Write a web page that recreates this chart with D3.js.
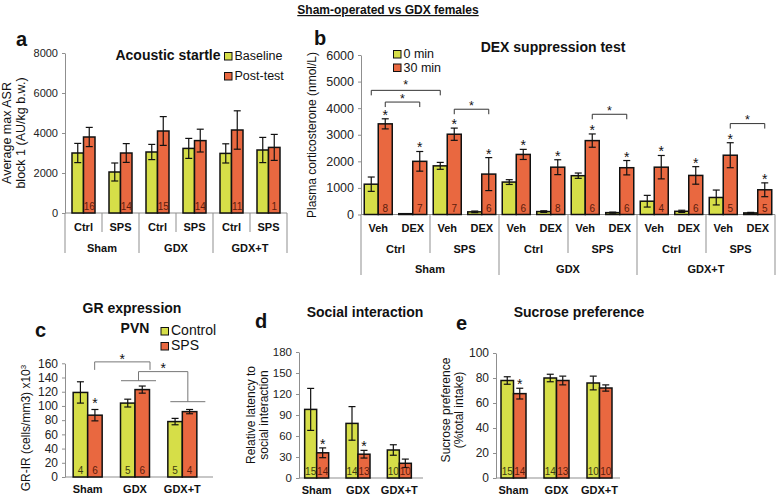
<!DOCTYPE html>
<html><head><meta charset="utf-8">
<script src="https://cdn.jsdelivr.net/npm/d3@7"></script>
<style>body{margin:0;background:#fff;}</style>
</head><body>
<svg id="chart" width="776" height="495"></svg>
<script>
// ---------- Panel a : Acoustic startle ----------
const aGroups = ["Sham", "GDX", "GDX+T"];
const aSubs = ["Ctrl", "SPS"];
const aSeries = ["Baseline", "Post-test"];
const aBaseline = [3000, 2050, 3050, 3230, 2980, 3150];
const aBaselineErr = [480, 450, 380, 500, 480, 630];
const aPost = [3800, 3000, 4100, 3620, 4150, 3280];
const aPostErr = [480, 470, 720, 570, 960, 650];
const aN = ["16", "14", "15", "14", "11", "1"];
const aTicks = [0, 2000, 4000, 6000, 8000];

// ---------- Panel b : DEX suppression test ----------
const bGroups = ["Sham", "GDX", "GDX+T"];
const bSubs = ["Ctrl", "SPS"];
const bTreats = ["Veh", "DEX"];
const bSeries = ["0 min", "30 min"];
const b0 = [1140, 30, 1830, 100, 1220, 110, 1460, 70, 500, 120, 640, 60];
const b0Err = [270, 0, 130, 30, 90, 30, 100, 20, 220, 40, 280, 20];
const b30 = [3410, 2000, 3020, 1520, 2260, 1780, 2780, 1760, 1780, 1470, 2230, 930];
const b30Err = [190, 370, 230, 620, 190, 280, 250, 270, 440, 330, 470, 260];
const bN = ["8", "7", "7", "6", "6", "8", "6", "6", "4", "6", "5", "5"];
const bTicks = [0, 1000, 2000, 3000, 4000, 5000, 6000];
// [from bar, from series, to bar, to series, level]
const bBrackets = [[0, 0, 2, 0, 4670], [0, 1, 1, 1, 4230], [2, 1, 3, 1, 3960], [6, 1, 7, 1, 3770], [10, 1, 11, 1, 3420]];

// ---------- Panel c : GR expression PVN ----------
const cGroups = ["Sham", "GDX", "GDX+T"];
const cSeries = ["Control", "SPS"];
const cControl = [119, 104, 78];
const cControlErr = [15, 5.5, 4.5];
const cSPS = [87, 123, 92];
const cSPSErr = [8, 5, 3];
const cNControl = ["4", "5", "5"];
const cNSPS = ["6", "6", "4"];
const cSPSStar = [true, false, false];
const cTicks = [0, 20, 40, 60, 80, 100, 120, 140, 160];

// ---------- Panel d : Social interaction ----------
const dGroups = ["Sham", "GDX", "GDX+T"];
const dControl = [98, 78, 40];
const dControlErr = [30, 24, 7.5];
const dSPS = [36, 34, 21];
const dSPSErr = [7, 5.5, 6];
const dNControl = ["15", "14", "10"];
const dNSPS = ["14", "13", "10"];
const dSPSStar = [true, true, false];
const dTicks = [0, 30, 60, 90, 120, 150, 180];

// ---------- Panel e : Sucrose preference ----------
const eGroups = ["Sham", "GDX", "GDX+T"];
const eControl = [78, 80, 76];
const eControlErr = [3, 3, 5.5];
const eSPS = [67.5, 78, 72];
const eSPSErr = [4.3, 3.5, 2.5];
const eNControl = ["15", "14", "10"];
const eNSPS = ["14", "13", "10"];
const eSPSStar = [true, false, false];
const eTicks = [0, 20, 40, 60, 80, 100];

// ================= drawing =================
const FONT = "'Liberation Sans', Arial, Helvetica, sans-serif";
const YEL = "#d6de48", ORG = "#e96840", AXC = "#8f8f8f";
const NYEL = "#3c3c10", NORG = "#5c1c0c";
const svg = d3.select("#chart");

function T(x, y, s, o = {}) {
  const t = svg.append("text").attr("x", x).attr("y", y).text(s)
    .attr("font-family", FONT).attr("font-size", o.size || 12)
    .attr("font-weight", o.weight || "normal")
    .attr("text-anchor", o.anchor || "middle")
    .attr("fill", o.fill || "#111");
  if (o.rotate != null) t.attr("transform", `rotate(${o.rotate},${x},${y})`);
  if (o.underline) t.attr("text-decoration", "underline");
  return t;
}
function L(x1, y1, x2, y2, col = AXC, w = 1) {
  svg.append("line").attr("x1", x1).attr("y1", y1).attr("x2", x2).attr("y2", y2)
    .attr("stroke", col).attr("stroke-width", w);
}
function yAxis(scale, ticks, x, fs) {
  const g = svg.append("g").attr("transform", `translate(${x},0)`)
    .call(d3.axisLeft(scale).tickValues(ticks).tickSize(3).tickSizeOuter(0).tickPadding(4).tickFormat(d3.format("d")));
  g.attr("font-family", FONT).attr("font-size", fs);
  g.select(".domain").attr("stroke", AXC);
  g.selectAll(".tick line").attr("stroke", AXC);
  g.selectAll(".tick text").attr("fill", "#222");
}
function star(x, cy, size = 14) { T(x, cy + size * 0.57, "*", { size }); }
function legendItem(x, y, color, label, fs) {
  svg.append("rect").attr("x", x).attr("y", y - 7.5).attr("width", 7.5).attr("height", 7.5)
    .attr("fill", color).attr("stroke", "#111").attr("stroke-width", 1);
  T(x + 10, y, label, { size: fs, anchor: "start" });
}
// bars: array of {x, w, v, e, color, n, ncol, star}
function drawBars(bars, y, nSize = 10, starGap = 7) {
  const base = y(0);
  const g = svg.append("g");
  g.selectAll("rect").data(bars).join("rect")
    .attr("x", d => d.x).attr("width", d => d.w)
    .attr("y", d => y(d.v)).attr("height", d => Math.max(0.6, base - y(d.v)))
    .attr("fill", d => d.color).attr("stroke", "#111").attr("stroke-width", 1.5);
  bars.forEach(d => {
    const cx = d.x + d.w / 2;
    if (d.e > 0) {
      const t = y(d.v + d.e), b = y(d.v - d.e);
      L(cx, t, cx, b, "#111", 1.2);
      L(cx - 3.5, t, cx + 3.5, t, "#111", 1.2);
      L(cx - 3.5, b, cx + 3.5, b, "#111", 1.2);
    }
    if (d.n) T(cx, base - 3, d.n, { size: nSize, fill: d.ncol });
    if (d.star) star(cx, y(d.v + d.e) - starGap);
  });
}

// main title
T(388, 14, "Sham-operated vs GDX females", { size: 12, weight: "bold", underline: true });

// ---------------- Panel a ----------------
{
  const y = d3.scaleLinear().domain([0, 8000]).range([213, 53]);
  const x0 = d3.scaleBand().domain(aGroups).range([65, 287]);
  const x1 = d3.scaleBand().domain(aSubs).range([0, x0.bandwidth()]);
  const xs = d3.scaleBand().domain(aSeries).range([-11.5, 11.5]);
  yAxis(y, aTicks, 65, 11);
  const bars = [];
  aGroups.forEach((g, gi) => aSubs.forEach((s, si) => {
    const i = gi * 2 + si, c = x0(g) + x1(s) + x1.bandwidth() / 2;
    bars.push({ x: c + xs("Baseline"), w: xs.bandwidth(), v: aBaseline[i], e: aBaselineErr[i], color: YEL });
    bars.push({ x: c + xs("Post-test"), w: xs.bandwidth(), v: aPost[i], e: aPostErr[i], color: ORG, n: aN[i], ncol: NORG });
    T(c, 231, s, { size: 11, weight: "bold" });
    if (si > 0) L(x0(g) + x1(s), 213, x0(g) + x1(s), 232);
  }));
  aGroups.forEach(g => {
    T(x0(g) + x0.bandwidth() / 2, 251.5, g, { size: 11, weight: "bold" });
    L(x0(g), 213, x0(g), 253);
  });
  L(287, 213, 287, 253);
  L(65, 213, 287, 213);
  drawBars(bars, y);
  T(16, 46, "a", { size: 20, weight: "bold", anchor: "start" });
  T(168, 60, "Acoustic startle", { size: 14, weight: "bold" });
  legendItem(224.5, 60, YEL, "Baseline", 12.5);
  legendItem(224.5, 80, ORG, "Post-test", 12.5);
  T(10.5, 133, "Average max ASR", { size: 12.5, rotate: -90 });
  T(24.5, 133, "block 1 (AU/kg b.w.)", { size: 12.5, rotate: -90 });
}

// ---------------- Panel b ----------------
{
  const y = d3.scaleLinear().domain([0, 6000]).range([214.5, 55]);
  const x0 = d3.scaleBand().domain(bGroups).range([361, 775]);
  const x1 = d3.scaleBand().domain(bSubs).range([0, x0.bandwidth()]);
  const x2 = d3.scaleBand().domain(bTreats).range([0, x1.bandwidth()]);
  const xs = d3.scaleBand().domain(bSeries).range([-14, 14]);
  yAxis(y, bTicks, 361, 12.5);
  const bars = [], centers = [];
  bGroups.forEach((g, gi) => {
    bSubs.forEach((s, si) => {
      bTreats.forEach((t, ti) => {
        const i = gi * 4 + si * 2 + ti;
        const c = x0(g) + x1(s) + x2(t) + x2.bandwidth() / 2;
        centers.push(c);
        bars.push({ x: c + xs("0 min"), w: xs.bandwidth(), v: b0[i], e: b0Err[i], color: YEL });
        bars.push({ x: c + xs("30 min"), w: xs.bandwidth(), v: b30[i], e: b30Err[i], color: ORG, n: bN[i], ncol: NORG, star: true });
        T(c, 232, t, { size: 11, weight: "bold" });
      });
      T(x0(g) + x1(s) + x1.bandwidth() / 2, 253, s, { size: 11, weight: "bold" });
      if (si > 0) L(x0(g) + x1(s), 214.5, x0(g) + x1(s), 253);
    });
    T(x0(g) + x0.bandwidth() / 2, 273, g, { size: 11, weight: "bold" });
    L(x0(g), 214.5, x0(g), 275);
  });
  L(775, 214.5, 775, 275);
  L(361, 214.5, 775, 214.5);
  drawBars(bars, y, 10, 7);
  bBrackets.forEach(([fi, fs, ti, ts, lev], k) => {
    const xa = centers[fi] + (fs ? 7 : -7), xb = centers[ti] + (ts ? 7 : -7), yy = y(lev);
    L(xa, yy + 5, xa, yy, "#333", 1);
    L(xa, yy, xb, yy, "#333", 1);
    L(xb, yy, xb, yy + 5, "#333", 1);
    star((xa + xb) / 2, yy - (k === 0 ? 8 : 6.5), 12.5);
  });
  T(314, 45, "b", { size: 20, weight: "bold", anchor: "start" });
  T(553, 52, "DEX suppression test", { size: 14, weight: "bold" });
  legendItem(393.5, 58, YEL, "0 min", 12.5);
  legendItem(393.5, 71.5, ORG, "30 min", 12.5);
  T(315.5, 135, "Plasma corticosterone (nmol/L)", { size: 12, rotate: -90 });
}

// ---------------- Panel c ----------------
{
  const y = d3.scaleLinear().domain([0, 160]).range([477, 363.3]);
  const x0 = d3.scaleBand().domain(cGroups).range([64, 206]);
  const xs = d3.scaleBand().domain(cSeries).range([-14.5, 14.5]);
  yAxis(y, cTicks, 65, 12);
  L(65, 477, 213, 477);
  const bars = [];
  cGroups.forEach((g, i) => {
    const c = x0(g) + x0.bandwidth() / 2;
    bars.push({ x: c + xs("Control"), w: xs.bandwidth(), v: cControl[i], e: cControlErr[i], color: YEL, n: cNControl[i], ncol: NYEL });
    bars.push({ x: c + xs("SPS"), w: xs.bandwidth(), v: cSPS[i], e: cSPSErr[i], color: ORG, n: cNSPS[i], ncol: NORG, star: cSPSStar[i] });
    T(c, 493, g, { size: 11, weight: "bold" });
  });
  drawBars(bars, y, 10, 9);
  const cs = cGroups.map(g => x0(g) + x0.bandwidth() / 2);
  const BC = "#777";
  // Sham SPS vs GDX SPS
  const yb1 = y(162), xa = cs[0] + 7, xb = cs[1] + 15;
  L(xa, yb1 + 8, xa, yb1, BC); L(xa, yb1, xb, yb1, BC); L(xb, yb1, xb, yb1 + 8, BC);
  star((xa + xb) / 2, yb1 - 6);
  // GDX vs GDX+T
  const yG = y(135.5), yT = y(106), yTop = y(148.3);
  L(cs[1] - 14, yG, cs[1] + 21, yG, BC);
  L(cs[2] - 12, yT, cs[2] + 23, yT, BC);
  const m1 = cs[1] + 3.5, m2 = cs[2] + 5.5;
  L(m1, yG, m1, yTop, BC); L(m1, yTop, m2, yTop, BC); L(m2, yTop, m2, yT, BC);
  star((m1 + m2) / 2, yTop - 7);
  T(35, 337, "c", { size: 20, weight: "bold", anchor: "start" });
  T(132, 313, "GR expression", { size: 14, weight: "bold" });
  T(135, 333.3, "PVN", { size: 14, weight: "bold" });
  legendItem(161, 335, YEL, "Control", 14);
  legendItem(161, 350, ORG, "SPS", 14);
  const yt = T(29.5, 428, "GR-IR (cells/mm3) x10", { size: 12, rotate: -90 });
  yt.append("tspan").attr("dy", -4).attr("font-size", 8).text("3");
}

// ---------------- Panel d ----------------
{
  const y = d3.scaleLinear().domain([0, 180]).range([478, 352]);
  const x0 = d3.scaleBand().domain(dGroups).range([296, 420]);
  const xs = d3.scaleBand().domain(cSeries).range([-12, 12]);
  yAxis(y, dTicks, 299, 11.5);
  L(299, 478, 423, 478);
  const bars = [];
  dGroups.forEach((g, i) => {
    const c = x0(g) + x0.bandwidth() / 2;
    bars.push({ x: c + xs("Control"), w: xs.bandwidth(), v: dControl[i], e: dControlErr[i], color: YEL, n: dNControl[i], ncol: NYEL });
    bars.push({ x: c + xs("SPS"), w: xs.bandwidth(), v: dSPS[i], e: dSPSErr[i], color: ORG, n: dNSPS[i], ncol: NORG, star: dSPSStar[i] });
    T(c, 494, g, { size: 11, weight: "bold" });
  });
  drawBars(bars, y, 10, 7);
  T(255, 328, "d", { size: 20, weight: "bold", anchor: "start" });
  T(365, 316.7, "Social interaction", { size: 14, weight: "bold" });
  T(254.5, 415, "Relative latency to", { size: 12, rotate: -90 });
  T(268, 415, "social interaction", { size: 12, rotate: -90 });
}

// ---------------- Panel e ----------------
{
  const y = d3.scaleLinear().domain([0, 100]).range([478, 353]);
  const x0 = d3.scaleBand().domain(eGroups).range([492, 621]);
  const xs = d3.scaleBand().domain(cSeries).range([-12.5, 12.5]);
  yAxis(y, eTicks, 496, 12);
  L(496, 478, 620, 478);
  const bars = [];
  eGroups.forEach((g, i) => {
    const c = x0(g) + x0.bandwidth() / 2;
    bars.push({ x: c + xs("Control"), w: xs.bandwidth(), v: eControl[i], e: eControlErr[i], color: YEL, n: eNControl[i], ncol: NYEL });
    bars.push({ x: c + xs("SPS"), w: xs.bandwidth(), v: eSPS[i], e: eSPSErr[i], color: ORG, n: eNSPS[i], ncol: NORG, star: eSPSStar[i] });
    T(c, 494, g, { size: 11, weight: "bold" });
  });
  drawBars(bars, y, 10, 7);
  T(456, 330, "e", { size: 20, weight: "bold", anchor: "start" });
  T(579, 317, "Sucrose preference", { size: 14, weight: "bold" });
  T(450, 410, "Sucrose preference", { size: 12, rotate: -90 });
  T(463, 410, "(%total intake)", { size: 12, rotate: -90 });
}
</script>
</body></html>
